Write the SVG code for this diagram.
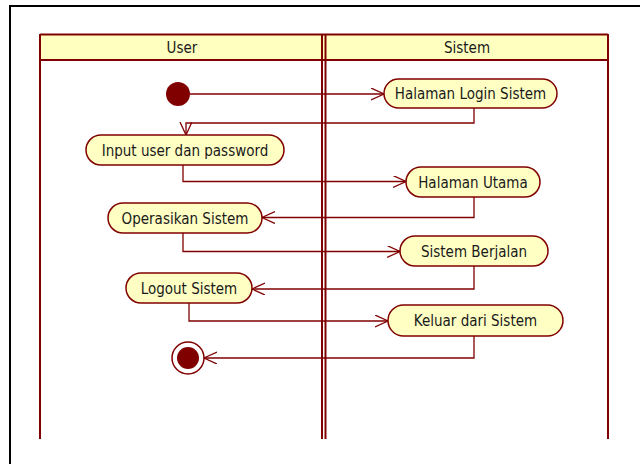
<svg xmlns="http://www.w3.org/2000/svg" width="640" height="464" viewBox="0 0 640 464">
  <style>
    .lane { stroke: #800000; stroke-width: 2; fill: none; }
    .act rect { fill: #FFFFC4; stroke: #800000; stroke-width: 1.5; }
    .lbl { font-family: "DejaVu Sans Condensed", "DejaVu Sans", sans-serif; font-size: 15px; fill: #1a1a1a; text-anchor: middle; }
    .flow { stroke: #800000; stroke-width: 1.3; fill: none; marker-end: url(#open); }
  </style>
  <defs>
    <marker id="open" markerUnits="userSpaceOnUse" markerWidth="15" markerHeight="14" refX="13" refY="6" orient="auto">
      <path d="M0,0 L13,6 L0,12" fill="none" stroke="#800000" stroke-width="1.3"/>
    </marker>
  </defs>
  <rect width="640" height="464" fill="#ffffff"/>
  <!-- frame -->
  <path d="M10,470 V6 H650" fill="none" stroke="#000000" stroke-width="2"/>

  <!-- swimlanes -->
  <g id="lanes">
    <rect x="40" y="34" width="568" height="26" fill="#FFFFC0"/>
    <line class="lane" x1="40" y1="34.5" x2="608" y2="34.5" stroke-width="3"/>
    <line class="lane" x1="40" y1="60" x2="608" y2="60"/>
    <line class="lane" x1="40" y1="34" x2="40" y2="439"/>
    <line class="lane" x1="608" y1="34" x2="608" y2="439"/>
    <line class="lane" x1="322" y1="34" x2="322" y2="439"/>
    <line class="lane" x1="325.5" y1="34" x2="325.5" y2="439"/>
    <text class="lbl" x="182" y="52.5">User</text>
    <text class="lbl" x="467" y="52.5">Sistem</text>
  </g>

  <!-- connectors -->
  <g id="connectors">
    <path class="flow" d="M190,94 H384"/>
    <path class="flow" d="M474,108 V123 H186 V135"/>
    <path class="flow" d="M183,165 V181.5 H406"/>
    <path class="flow" d="M474,197 V217.5 H262"/>
    <path class="flow" d="M183,233 V251.5 H400"/>
    <path class="flow" d="M474,266 V289 H252"/>
    <path class="flow" d="M189,303 V321 H388"/>
    <path class="flow" d="M474,336 V358 H204"/>
  </g>

  <!-- nodes -->
  <g id="start">
    <circle cx="178" cy="94" r="12" fill="#800000"/>
  </g>
  <g id="halaman-login" class="act">
    <rect x="384" y="79" width="173" height="29" rx="14.5"/>
    <text class="lbl" x="470.5" y="98.5">Halaman Login Sistem</text>
  </g>
  <g id="input-user" class="act">
    <rect x="86" y="135" width="198" height="30" rx="15"/>
    <text class="lbl" x="185" y="155.5">Input user dan password</text>
  </g>
  <g id="halaman-utama" class="act">
    <rect x="406" y="167" width="134" height="30" rx="15"/>
    <text class="lbl" x="473" y="187.5">Halaman Utama</text>
  </g>
  <g id="operasikan" class="act">
    <rect x="108" y="203" width="154" height="30" rx="15"/>
    <text class="lbl" x="185" y="223.5">Operasikan Sistem</text>
  </g>
  <g id="sistem-berjalan" class="act">
    <rect x="400" y="236" width="148" height="30" rx="15"/>
    <text class="lbl" x="474" y="256.5">Sistem Berjalan</text>
  </g>
  <g id="logout" class="act">
    <rect x="126" y="273" width="126" height="30" rx="15"/>
    <text class="lbl" x="189" y="293.5">Logout Sistem</text>
  </g>
  <g id="keluar" class="act">
    <rect x="388" y="305" width="175" height="31" rx="15.5"/>
    <text class="lbl" x="475.5" y="326">Keluar dari Sistem</text>
  </g>
  <g id="end">
    <circle cx="188" cy="358" r="16" fill="#ffffff" stroke="#800000" stroke-width="1.5"/>
    <circle cx="188" cy="358" r="11" fill="#800000"/>
  </g>
</svg>
